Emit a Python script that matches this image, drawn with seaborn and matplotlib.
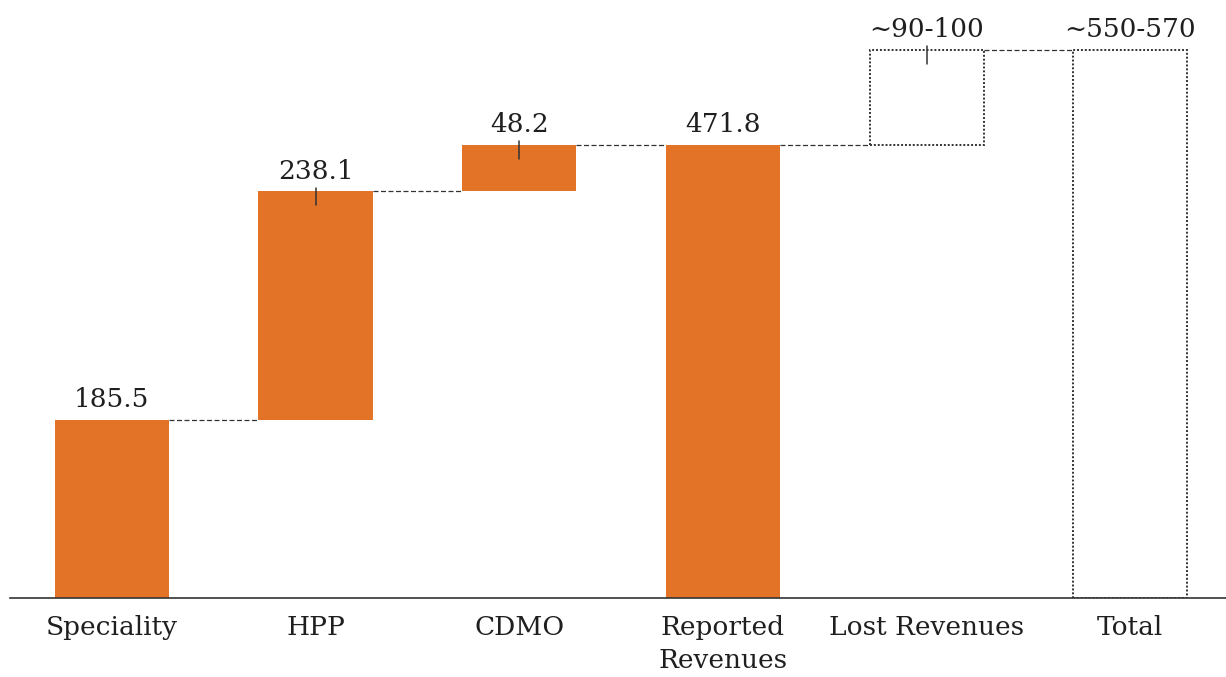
import matplotlib
matplotlib.use("Agg")
import matplotlib.pyplot as plt
import seaborn as sns

categories = ['Speciality', 'HPP', 'CDMO', 'Reported\nRevenues', 'Lost Revenues', 'Total']
bottoms = [0, 185.5, 423.6, 0, 471.8, 0]
tops = [185.5, 423.6, 471.8, 471.8, 570.8, 570.8]
value_labels = ['185.5', '238.1', '48.2', '471.8', '\u223c90-100', '\u223c550-570']
estimated = [False, False, False, False, True, True]
has_tick = [False, True, True, False, True, False]

orange = '#E27327'
dark = '#333333'
fonts = ['DejaVu Serif', 'DejaVu Sans']

sns.set_theme(style='white')
plt.rcParams['font.family'] = fonts

fig = plt.figure(figsize=(12.26, 6.77), dpi=100)
ax = fig.add_axes([10 / 1226, 79 / 677, 1216 / 1226, 598 / 677])

sns.barplot(x=categories, y=tops, color=orange, width=0.56, ax=ax, saturation=1)

# turn the plain bars into waterfall steps
for i, patch in enumerate(ax.patches):
    patch.set_y(bottoms[i])
    patch.set_height(tops[i] - bottoms[i])
    patch.set_linewidth(0)
    if estimated[i]:
        patch.set_facecolor('none')
        patch.set_edgecolor(dark)
        patch.set_linestyle((0, (1, 1)))
        patch.set_linewidth(1.4)

# dashed connectors between bars
pats = ax.patches
for i in range(len(pats) - 1):
    x0 = pats[i].get_x() + pats[i].get_width()
    x1 = pats[i + 1].get_x()
    ax.plot([x0, x1], [tops[i], tops[i]], color=dark, lw=0.9,
            ls=(0, (4, 2)), zorder=1)

# value labels and small ticks
for i, patch in enumerate(pats):
    xc = patch.get_x() + patch.get_width() / 2
    ax.text(xc, tops[i] + 8, value_labels[i], ha='center', va='bottom',
            fontsize=19, color='#1f1f1f', family=fonts)
    if has_tick[i]:
        ax.plot([xc, xc], [tops[i] + 4, tops[i] - 14], color=dark, lw=1.1)

ax.set_xlim(-0.5, 5.47)
ax.set_ylim(0, 623)
ax.set_yticks([])
for s in ['top', 'right', 'left']:
    ax.spines[s].set_visible(False)
ax.spines['bottom'].set_color(dark)
ax.spines['bottom'].set_linewidth(1.2)
ax.tick_params(axis='x', length=0, pad=12, labelsize=19, colors='#1f1f1f')
for lab in ax.get_xticklabels():
    lab.set_linespacing(1.4)

fig.savefig('out.png', dpi=100)
